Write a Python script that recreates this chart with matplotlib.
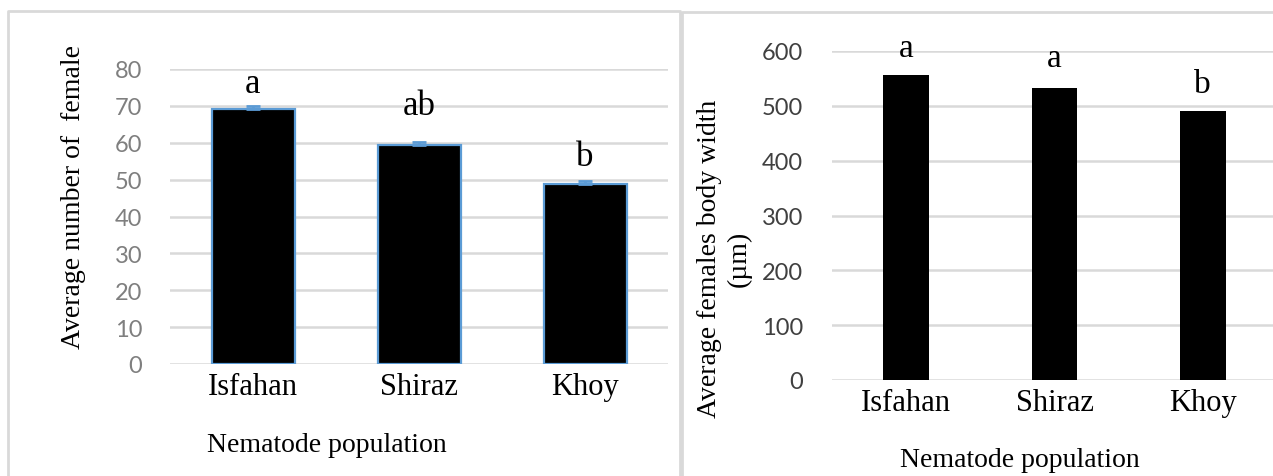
import numpy as np
import matplotlib.pyplot as plt
from matplotlib.lines import Line2D

populations = ["Isfahan", "Shiraz", "Khoy"]

# number of females per population, with standard error
female_count = [69.2, 59.4, 48.8]
female_count_err = [0.8, 0.8, 0.8]
female_count_groups = ["a", "ab", "b"]

# female body width (um)
body_width = [556, 532, 491]
body_width_groups = ["a", "a", "b"]

plt.rcParams['font.family'] = ['Liberation Serif', 'DejaVu Serif']

W, H = 1273, 477
fig = plt.figure(figsize=(W / 100, H / 100), dpi=100)

grid_col = "#D9D9D9"
blue = "#5B9BD5"


def px_axes(x0, x1, ytop, ybot):
    # axes rectangle given in pixel coordinates (origin top-left)
    return fig.add_axes([x0 / W, (H - ybot) / H, (x1 - x0) / W, (ybot - ytop) / H])


def style(ax, ymax, step, tick_col, pad):
    ax.set_ylim(0, ymax)
    ax.set_yticks(np.arange(0, ymax + 1, step))
    ax.yaxis.grid(True, color=grid_col, lw=1.8)
    ax.set_axisbelow(True)
    for s in ax.spines.values():
        s.set_visible(False)
    ax.tick_params(axis="y", length=0, labelsize=17, labelcolor=tick_col, pad=pad)
    for t in ax.get_yticklabels():
        t.set_family(["Lato", "DejaVu Sans"])
    ax.tick_params(axis="x", length=0, labelsize=22, pad=6)
    ax.set_facecolor("none")


def group_letters(ax, tops, letters, gaps_px, size):
    # significance letters, baseline a few pixels above each bar
    for xi, top, g, dy in zip(range(len(tops)), tops, letters, gaps_px):
        ax.annotate(g, (xi, top), xytext=(0, dy * 0.72), textcoords="offset points",
                    ha="center", va="baseline", fontsize=size)


# panel frames
fig.add_artist(Line2D([8 / W, 8 / W, 680 / W, 680 / W], [0, 1 - 12 / H, 1 - 12 / H, 0],
                      color=grid_col, lw=2))
fig.add_artist(Line2D([682 / W, 682 / W, 1], [0, 1 - 13 / H, 1 - 13 / H],
                      color=grid_col, lw=2))

x = np.arange(len(populations))

# left: number of females
ax1 = px_axes(170, 668, 70, 365)
ax1.bar(x, female_count, width=0.5, color="black", edgecolor=blue, lw=1.6)
ax1.errorbar(x, female_count, yerr=[np.zeros(len(x)), female_count_err], fmt="none",
             ecolor=blue, capsize=5, capthick=2, elinewidth=2)
style(ax1, 80, 10, "#7F7F7F", 20)
ax1.set_xlim(-0.5, 2.5)
ax1.set_xticks(x, populations)
group_letters(ax1, np.add(female_count, female_count_err), female_count_groups,
              [14, 28, 16], 25)
fig.text(74 / W, 1 - 197 / H, "Average number of  female", rotation=90,
         ha="center", va="center", fontsize=20)
fig.text(327 / W, 1 - 446 / H, "Nematode population", ha="center", va="center", fontsize=20)

# right: body width
ax2 = px_axes(832, 1277, 52, 381)
ax2.bar(x, body_width, width=0.31, color="black")
style(ax2, 600, 100, "#404040", 21)
ax2.set_xlim(-0.5, 2.5)
ax2.set_xticks(x, populations)
group_letters(ax2, body_width, body_width_groups, [19, 22, 19], 24)
fig.text(724 / W, 1 - 259 / H, "Average females body width\n(µm)", rotation=90,
         ha="center", va="center", multialignment="center", fontsize=20,
         linespacing=1.25)
fig.text(1020 / W, 1 - 461 / H, "Nematode population", ha="center", va="center", fontsize=20)

fig.savefig("out.png", dpi=100, facecolor="white")
